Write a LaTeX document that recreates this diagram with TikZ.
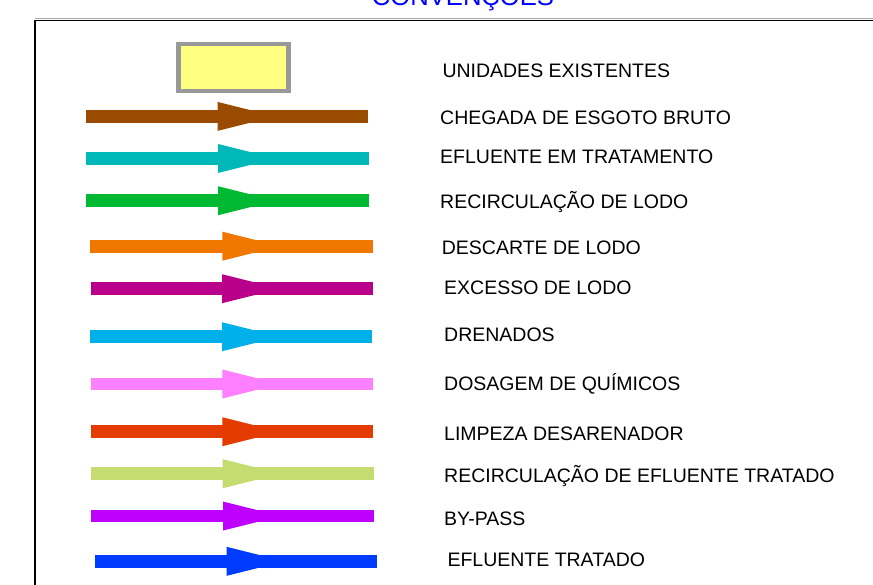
\documentclass[tikz,border=0pt]{standalone}
\usepackage{fontspec}
\setmainfont{Liberation Sans}
\usepackage{xcolor}
\usepackage{tikz}

\definecolor{esgoto}{RGB}{153,76,0}
\definecolor{tratamento}{RGB}{0,184,184}
\definecolor{recirc}{RGB}{0,184,50}
\definecolor{descarte}{RGB}{240,120,0}
\definecolor{excesso}{RGB}{184,0,138}
\definecolor{drenados}{RGB}{0,176,232}
\definecolor{quimicos}{RGB}{255,128,255}
\definecolor{limpeza}{RGB}{228,60,0}
\definecolor{recefl}{RGB}{196,220,112}
\definecolor{bypass}{RGB}{190,0,255}
\definecolor{tratado}{RGB}{0,60,255}
\definecolor{unidade}{RGB}{255,255,128}

\newcommand\flowarrow[6]{
  \coordinate (#1-s) at (#2,#5);
  \coordinate (#1-e) at (#3,#5);
  \draw[line width=12.7pt,#6] (#1-s) -- (#1-e);
  \fill[#6] % head
    (#4,#5-14.5) -- (#4+58,#5) -- (#4,#5+14.5) -- cycle;
}

\begin{document}
\begin{tikzpicture}[x=1pt,y=-1pt,
    legend/.style={anchor=base west,inner sep=0pt,font=\fontsize{19.5}{22}\selectfont}]

  \clip (0,0) rectangle (873,585);

  \node[anchor=base,inner sep=0pt,text=blue,font=\fontsize{25.6}{28}\selectfont]
    (titulo) at (463,5.7) {CONVENÇÕES};

  \draw[black!35,line width=1pt] (35,19) -- (880,19);
  \draw[line width=1.6pt] (35,600) -- (35,20.7) -- (880,20.7);

  \node[draw=black!40,fill=unidade,line width=4.7pt,minimum width=110.3pt,
    minimum height=46.9pt,inner sep=0pt] (existentes) at (233.5,67.5) {};

  \flowarrow{esgoto}{86}{368}{217.5}{116.4}{esgoto}
  \flowarrow{tratamento}{86}{369}{218}{158.5}{tratamento}
  \flowarrow{recirc}{86}{369}{218}{200.7}{recirc}
  \flowarrow{descarte}{90}{372.7}{222.3}{246.2}{descarte}
  \flowarrow{excesso}{91}{373}{222}{288.7}{excesso}
  \flowarrow{drenados}{90}{372}{222}{336.7}{drenados}
  \flowarrow{quimicos}{90.7}{372.7}{222.3}{384}{quimicos}
  \flowarrow{limpeza}{91}{373}{222.3}{431.7}{limpeza}
  \flowarrow{recefl}{91}{374}{222.7}{473.7}{recefl}
  \flowarrow{bypass}{91}{374}{223}{516}{bypass}
  \flowarrow{tratado}{95}{377.3}{226.7}{561.3}{tratado}

  \node[legend] (l-unid) at (442.3,77.3) {UNIDADES EXISTENTES};
  \node[legend] (l-esgoto) at (440,125) {CHEGADA DE ESGOTO BRUTO};
  \node[legend] (l-trat) at (440,163.5) {EFLUENTE EM TRATAMENTO};
  \node[legend] (l-recirc) at (440,208.5) {RECIRCULAÇÃO DE LODO};
  \node[legend] (l-descarte) at (441.7,254.5) {DESCARTE DE LODO};
  \node[legend] (l-excesso) at (444,294.5) {EXCESSO DE LODO};
  \node[legend] (l-dren) at (444,341.5) {DRENADOS};
  \node[legend] (l-quim) at (444,390.5) {DOSAGEM DE QUÍMICOS};
  \node[legend] (l-limp) at (444,440.5) {LIMPEZA DESARENADOR};
  \node[legend] (l-recefl) at (444,482.5) {RECIRCULAÇÃO DE EFLUENTE TRATADO};
  \node[legend] (l-bypass) at (444,525.5) {BY-PASS};
  \node[legend] (l-tratado) at (447.3,566.5) {EFLUENTE TRATADO};

\end{tikzpicture}
\end{document}
